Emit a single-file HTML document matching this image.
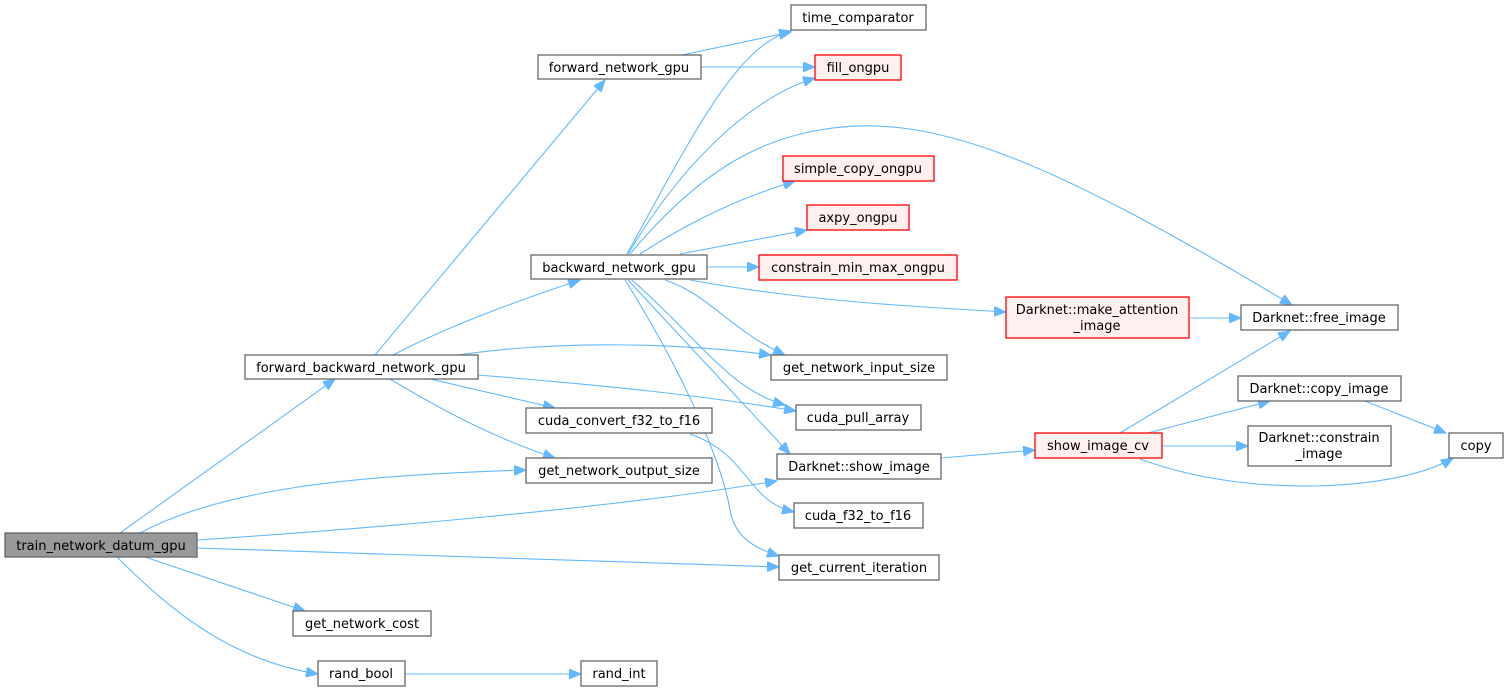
<!DOCTYPE html>
<html><head><meta charset="utf-8"><style>
html,body{margin:0;padding:0;background:#fff;}
svg{display:block;}
text{font-family:"DejaVu Sans","Liberation Sans",sans-serif;font-size:13px;fill:#000;}
.n rect{fill:#fff;stroke:#666;stroke-width:1.3;}
.r rect{fill:#fff0f0;stroke:#f00;stroke-width:1.3;}
.e{fill:none;stroke:#63b8ff;stroke-width:1.1;}
</style></head><body>
<svg width="1505" height="688" viewBox="0 0 1505 688" xmlns="http://www.w3.org/2000/svg">
<defs><marker id="a" markerWidth="13" markerHeight="10" refX="12" refY="5" orient="auto" markerUnits="userSpaceOnUse"><path d="M0,0 L12,5 L0,10 Z" fill="#63b8ff" stroke="#63b8ff"/></marker></defs>
<g marker-end="url(#a)">
<path class="e" d="M120,533 L335,379"/>
<path class="e" d="M140,533 C220,490 350,475 526,470"/>
<path class="e" d="M197,540 C350,530 600,510 777,481"/>
<path class="e" d="M197,548 L779,567"/>
<path class="e" d="M145,557 L305,611"/>
<path class="e" d="M117,557 C170,610 230,660 318,674"/>
<path class="e" d="M405,674 L581,674"/>
<path class="e" d="M375,355 L605,80"/>
<path class="e" d="M393,355 C450,325 520,300 580,280"/>
<path class="e" d="M458,355 C560,340 680,343 771,355"/>
<path class="e" d="M478,375 C600,385 700,395 796,411"/>
<path class="e" d="M430,379 L555,408"/>
<path class="e" d="M390,379 C450,415 500,440 555,458"/>
<path class="e" d="M690,434 C750,455 745,500 794,512"/>
<path class="e" d="M682,55 L791,32"/>
<path class="e" d="M701,67 L815,67"/>
<path class="e" d="M627,254 C700,120 740,45 791,31"/>
<path class="e" d="M628,254 C690,150 760,95 815,78"/>
<path class="e" d="M630,254 C700,170 760,140 820,130 C930,110 1050,160 1292,305"/>
<path class="e" d="M640,254 C700,215 750,195 795,181"/>
<path class="e" d="M680,254 L807,230"/>
<path class="e" d="M707,267 L759,267"/>
<path class="e" d="M690,280 C800,300 900,306 1006,312"/>
<path class="e" d="M665,280 C710,295 730,330 785,355"/>
<path class="e" d="M632,280 C700,340 730,390 785,405"/>
<path class="e" d="M628,280 L790,454"/>
<path class="e" d="M625,280 C700,400 725,480 730,510 C735,540 760,550 779,556"/>
<path class="e" d="M1190,318 L1241,318"/>
<path class="e" d="M941,458 L1035,450"/>
<path class="e" d="M1120,433 L1290,331"/>
<path class="e" d="M1148,433 L1270,401"/>
<path class="e" d="M1162,446 L1248,446"/>
<path class="e" d="M1140,459 C1250,500 1400,490 1453,458"/>
<path class="e" d="M1365,401 L1446,433"/>
</g>
<g class="n"><rect x="5" y="533" width="192" height="24" style="fill:#999"/><text x="101" y="550" text-anchor="middle">train_network_datum_gpu</text></g>
<g class="n"><rect x="245" y="355" width="233" height="24"/><text x="361" y="372" text-anchor="middle">forward_backward_network_gpu</text></g>
<g class="n"><rect x="538" y="55" width="163" height="24"/><text x="619" y="72" text-anchor="middle">forward_network_gpu</text></g>
<g class="n"><rect x="531" y="255" width="176" height="24"/><text x="619" y="272" text-anchor="middle">backward_network_gpu</text></g>
<g class="n"><rect x="526" y="408" width="186" height="25"/><text x="619" y="425" text-anchor="middle">cuda_convert_f32_to_f16</text></g>
<g class="n"><rect x="526" y="458" width="186" height="25"/><text x="619" y="475" text-anchor="middle">get_network_output_size</text></g>
<g class="n"><rect x="293" y="611" width="138" height="25"/><text x="362" y="628" text-anchor="middle">get_network_cost</text></g>
<g class="n"><rect x="318" y="661" width="87" height="25"/><text x="361" y="678" text-anchor="middle">rand_bool</text></g>
<g class="n"><rect x="581" y="661" width="76" height="25"/><text x="619" y="678" text-anchor="middle">rand_int</text></g>
<g class="n"><rect x="791" y="5" width="135" height="25"/><text x="858" y="22" text-anchor="middle">time_comparator</text></g>
<g class="r"><rect x="815" y="55" width="86" height="25"/><text x="858" y="72" text-anchor="middle">fill_ongpu</text></g>
<g class="r"><rect x="783" y="156" width="151" height="25"/><text x="858" y="173" text-anchor="middle">simple_copy_ongpu</text></g>
<g class="r"><rect x="807" y="205" width="102" height="25"/><text x="858" y="222" text-anchor="middle">axpy_ongpu</text></g>
<g class="r"><rect x="759" y="255" width="198" height="25"/><text x="858" y="272" text-anchor="middle">constrain_min_max_ongpu</text></g>
<g class="r"><rect x="1006" y="297" width="183" height="41"/><text x="1097" y="314" text-anchor="middle">Darknet::make_attention</text><text x="1097" y="330" text-anchor="middle">_image</text></g>
<g class="n"><rect x="771" y="355" width="176" height="25"/><text x="859" y="372" text-anchor="middle">get_network_input_size</text></g>
<g class="n"><rect x="796" y="405" width="125" height="25"/><text x="858" y="422" text-anchor="middle">cuda_pull_array</text></g>
<g class="n"><rect x="777" y="454" width="164" height="25"/><text x="859" y="471" text-anchor="middle">Darknet::show_image</text></g>
<g class="n"><rect x="794" y="503" width="129" height="25"/><text x="858" y="520" text-anchor="middle">cuda_f32_to_f16</text></g>
<g class="n"><rect x="779" y="555" width="160" height="25"/><text x="859" y="572" text-anchor="middle">get_current_iteration</text></g>
<g class="r"><rect x="1035" y="433" width="127" height="25"/><text x="1098" y="450" text-anchor="middle">show_image_cv</text></g>
<g class="n"><rect x="1241" y="305" width="157" height="25"/><text x="1319" y="322" text-anchor="middle">Darknet::free_image</text></g>
<g class="n"><rect x="1238" y="376" width="163" height="25"/><text x="1319" y="393" text-anchor="middle">Darknet::copy_image</text></g>
<g class="n"><rect x="1248" y="426" width="143" height="40"/><text x="1319" y="442" text-anchor="middle">Darknet::constrain</text><text x="1319" y="458" text-anchor="middle">_image</text></g>
<g class="n"><rect x="1449" y="433" width="54" height="25"/><text x="1476" y="450" text-anchor="middle">copy</text></g>
</svg>
</body></html>
